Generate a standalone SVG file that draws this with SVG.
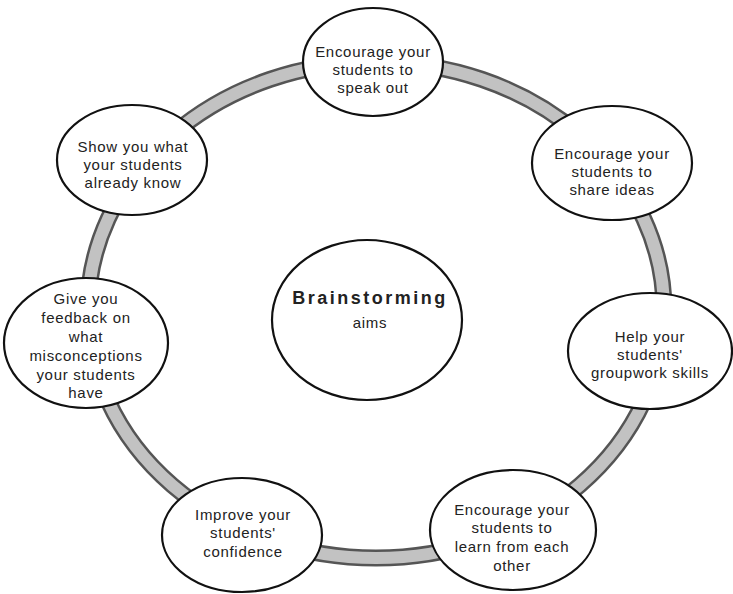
<svg xmlns="http://www.w3.org/2000/svg" width="733" height="594" viewBox="0 0 733 594">
<style>
.node ellipse{fill:#fff;stroke:#111;stroke-width:2.2}
text{font-family:"Liberation Sans",Arial,sans-serif;font-size:15px;letter-spacing:0.7px;fill:#222;text-anchor:middle}
.big{font-size:18px;letter-spacing:2.5px;font-weight:bold}
</style>
<rect width="733" height="594" fill="#fff"/>
<g id="connectors">
<ellipse cx="376" cy="310" rx="288" ry="248" fill="none" stroke="#555" stroke-width="17"/>
<ellipse cx="376" cy="310" rx="288" ry="248" fill="none" stroke="#c2c2c2" stroke-width="12"/>
</g>
<g id="n-top" class="node"><ellipse cx="373" cy="62" rx="70" ry="54"/>
<text x="373" y="57">Encourage your</text><text x="373" y="75">students to</text><text x="373" y="93">speak out</text></g>
<g id="n-topleft" class="node"><ellipse cx="132" cy="160" rx="75" ry="55"/>
<text x="133" y="152">Show you what</text><text x="133" y="170">your students</text><text x="133" y="188">already know</text></g>
<g id="n-topright" class="node"><ellipse cx="612" cy="163" rx="80" ry="57"/>
<text x="612" y="159">Encourage your</text><text x="612" y="177">students to</text><text x="612" y="195">share ideas</text></g>
<g id="n-left" class="node"><ellipse cx="86" cy="343" rx="82" ry="65"/>
<text x="86" y="304">Give you</text><text x="86" y="323">feedback on</text><text x="86" y="342">what</text><text x="86" y="361">misconceptions</text><text x="86" y="380">your students</text><text x="86" y="398">have</text></g>
<g id="n-right" class="node"><ellipse cx="650" cy="351" rx="82" ry="58"/>
<text x="650" y="342">Help your</text><text x="650" y="360">students'</text><text x="650" y="378">groupwork skills</text></g>
<g id="n-bottomleft" class="node"><ellipse cx="242" cy="535" rx="80" ry="57"/>
<text x="243" y="520">Improve your</text><text x="243" y="538">students'</text><text x="243" y="557">confidence</text></g>
<g id="n-bottomright" class="node"><ellipse cx="513" cy="530" rx="83" ry="60"/>
<text x="512" y="515">Encourage your</text><text x="512" y="533">students to</text><text x="512" y="552">learn from each</text><text x="512" y="571">other</text></g>
<g id="n-center" class="node"><ellipse cx="367" cy="320" rx="95" ry="80"/>
<text class="big" x="370" y="304">Brainstorming</text><text x="370" y="328" style="font-size:15px">aims</text></g>
</svg>
